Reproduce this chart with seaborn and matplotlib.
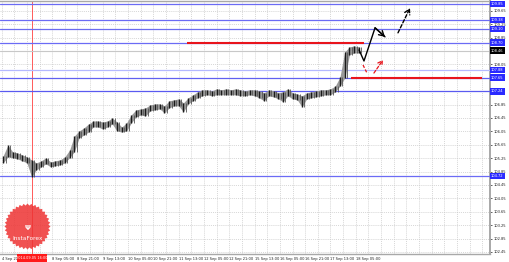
import numpy as np
import pandas as pd
import matplotlib
matplotlib.use("Agg")
import matplotlib.pyplot as plt
import seaborn as sns
from matplotlib.patches import Polygon, Rectangle

# ---------------- data ----------------
# price range of each 3-hour group of H1 bars (USD/JPY, 4-18 Sep 2014)
group_highs = [105.32, 105.64, 105.44, 105.41, 105.35, 105.29, 105.20, 105.11, 105.17, 105.26,
               105.14, 105.17, 105.20, 105.29, 105.49, 105.91, 106.06, 106.15, 106.27, 106.36,
               106.36, 106.33, 106.36, 106.45, 106.33, 106.18, 106.30, 106.54, 106.69, 106.72,
               106.75, 106.84, 106.87, 106.87, 106.81, 106.96, 106.99, 107.02, 106.90, 107.05,
               107.14, 107.23, 107.29, 107.29, 107.26, 107.32, 107.29, 107.32, 107.29, 107.32,
               107.29, 107.26, 107.29, 107.29, 107.26, 107.20, 107.29, 107.26, 107.20, 107.23,
               107.32, 107.20, 107.17, 107.11, 107.20, 107.23, 107.26, 107.29, 107.29, 107.32,
               107.40, 107.67, 108.42, 108.57, 108.60, 108.57]
group_lows = [105.11, 105.29, 105.26, 105.23, 105.17, 105.11, 104.69, 104.90, 104.99, 105.08,
              104.99, 105.02, 105.05, 105.11, 105.26, 105.44, 105.85, 105.94, 106.03, 106.18,
              106.18, 106.12, 106.18, 106.27, 106.06, 106.03, 106.06, 106.30, 106.48, 106.54,
              106.51, 106.66, 106.69, 106.72, 106.60, 106.75, 106.81, 106.81, 106.63, 106.87,
              106.96, 107.05, 107.11, 107.14, 107.11, 107.14, 107.14, 107.14, 107.14, 107.14,
              107.11, 107.11, 107.14, 107.11, 107.05, 106.96, 107.11, 107.08, 107.02, 106.93,
              107.11, 107.02, 106.99, 106.78, 107.02, 107.05, 107.08, 107.11, 107.14, 107.14,
              107.23, 107.40, 107.64, 108.33, 108.39, 108.39]
bars_per_group = 3

level_prices = [109.85, 109.38, 109.10, 108.70, 107.88, 107.65, 107.24, 104.72]
current_price = 108.46

resistance_price = 108.70
resistance_bars = [117.3, 229.2]
support_price = 107.65
support_bars = [220.8, 303.7]

forecast_bars = [226.1, 229.2, 236.2, 242.5]
forecast_prices = [108.48, 108.15, 109.14, 108.87]
forecast2_bars = [250.7, 258.3]
forecast2_prices = [108.99, 109.73]
alt_left_bars = [228.6, 231.1]
alt_left_prices = [108.03, 107.79]
alt_right_bars = [235.5, 241.2]
alt_right_prices = [107.79, 108.18]

tick_bars = [0, 32, 48, 64, 80, 96, 112, 128, 144, 160, 176, 192, 208, 224]
tick_labels = ["4 Sep 2014", "8 Sep 05:00", "8 Sep 21:00", "9 Sep 13:00", "10 Sep 05:00",
               "10 Sep 21:00", "11 Sep 13:00", "12 Sep 05:00", "12 Sep 21:00", "15 Sep 13:00",
               "16 Sep 05:00", "16 Sep 21:00", "17 Sep 13:00", "18 Sep 05:00"]
y_ticks = [102.45, 102.85, 103.25, 103.65, 104.05, 104.45, 104.85, 105.25, 105.65, 106.05,
           106.45, 106.85, 107.25, 107.65, 108.05, 108.45, 108.85, 109.25, 109.65]
crosshair_bar = 19
crosshair_label = "2014.09.05 16:00"
brand = "InstaForex"

# ---------------- style ----------------
sns.set_style("white")
plt.rcParams['font.family'] = ['DejaVu Sans']

W, H = 510, 262
fig = plt.figure(figsize=(W / 100, H / 100), dpi=100)
fig.patch.set_facecolor("white")
ax = fig.add_axes([0, 8 / H, 490 / W, 253 / H])
ax.set_facecolor("white")

ax.set_xlim(-1.0, 308.9)
ax.set_ylim(102.39, 109.94)

# grid
ax.set_xticks(tick_bars)
ax.set_xticks(np.arange(0, 309, 8), minor=True)
ax.set_xticklabels(tick_labels, ha="left", fontsize=2.6)
ax.set_yticks(y_ticks)
# labels hidden behind the price boxes are left blank
box_like = level_prices + [current_price]
ylabels = ["" if min(abs(v - b) for b in box_like) < 0.1 else f"{v:.2f}" for v in y_ticks]
ax.set_yticklabels(ylabels, fontsize=2.6)
ax.yaxis.tick_right()
ax.grid(True, which="both", color="#c8c8c8", linestyle=(0, (1.5, 1.5)), linewidth=0.5)
ax.tick_params(axis="x", which="major", length=1.5, width=0.5, pad=0.5, colors="#222222")
ax.tick_params(axis="x", which="minor", length=0)
ax.tick_params(axis="y", length=1.5, width=0.5, pad=1, colors="#222222")
ax.spines["left"].set_visible(False)
for side in ["right", "bottom", "top"]:
    ax.spines[side].set_color("#a8a8a8")
ax.spines["right"].set_linewidth(1.4)
ax.spines["bottom"].set_linewidth(1.0)
ax.spines["top"].set_linewidth(1.0)

# crosshair
ax.axvline(crosshair_bar, color="#ff4040", lw=0.6, zorder=2)

# level lines
level_colors = ["#6b6bf5", "#6b6bf5", "#6b6bf0", "#6b6bf5", "#b4b8ff", "#6060f0", "#5a5af0", "#6b6bf5"]
for p, c in zip(level_prices, level_colors):
    ax.axhline(p, color=c, lw=0.9, zorder=3)
ax.axhline(current_price, color="#c8c8c8", lw=0.8, zorder=2)

# candles
x = np.arange(len(group_highs)) * bars_per_group + 1
df = pd.DataFrame({"bar": x, "high": group_highs, "low": group_lows})
ax.fill_between(df["bar"], df["low"], df["high"], color="#9a9a9a", lw=0, zorder=4)
ax.vlines(df["bar"], df["low"], df["high"], color="#1a1a1a", lw=1.0, zorder=5)
ax.vlines(df["bar"] + 1.5, df["low"], df["high"], color="#555555", lw=0.6, zorder=5)

# red zones
ax.plot(resistance_bars, [resistance_price] * 2, color="#e8141c", lw=1.5, zorder=6,
        solid_capstyle="butt")
ax.plot(support_bars, [support_price] * 2, color="#e8141c", lw=1.5, zorder=6,
        solid_capstyle="butt")

# forecast arrows
fc = pd.DataFrame({"bar": forecast_bars, "price": forecast_prices})
sns.lineplot(data=fc, x="bar", y="price", sort=False, color="black", lw=1.0, ax=ax, zorder=7)
ax.set_xlabel("")
ax.set_ylabel("")
ax.annotate("", xy=(forecast_bars[-1], forecast_prices[-1]),
            xytext=(forecast_bars[-2], forecast_prices[-2]),
            arrowprops=dict(arrowstyle="->,head_length=0.35,head_width=0.2", color="black",
                            lw=1.0, shrinkA=0, shrinkB=0), zorder=7)
ax.annotate("", xy=(forecast2_bars[-1], forecast2_prices[-1]),
            xytext=(forecast2_bars[0], forecast2_prices[0]),
            arrowprops=dict(arrowstyle="->,head_length=0.35,head_width=0.2", color="black",
                            lw=1.0, shrinkA=0, shrinkB=0, linestyle=(0, (2.5, 1.5))), zorder=7)
ax.plot(alt_left_bars, alt_left_prices, color="#e8141c", lw=0.9, ls=(0, (2.5, 1.5)), zorder=7)
ax.annotate("", xy=(alt_right_bars[-1], alt_right_prices[-1]),
            xytext=(alt_right_bars[0], alt_right_prices[0]),
            arrowprops=dict(arrowstyle="->,head_length=0.3,head_width=0.18", color="#e8141c",
                            lw=0.9, shrinkA=0, shrinkB=0, linestyle=(0, (2.5, 1.5))), zorder=7)

# price boxes on the right axis
for p in level_prices:
    ax.text(1.002, p, f"{p:.2f}", transform=ax.get_yaxis_transform(), fontsize=2.6,
            color="white", va="center", ha="left", zorder=10, clip_on=False,
            bbox=dict(boxstyle="square,pad=0.35", fc="#2a2aff", ec="none"))
ax.text(1.002, current_price, f"{current_price:.2f}", transform=ax.get_yaxis_transform(),
        fontsize=2.6, color="white", va="center", ha="left", zorder=10, clip_on=False,
        bbox=dict(boxstyle="square,pad=0.35", fc="#000000", ec="none"))

# overlay in pixel coordinates (logo and crosshair date box)
ov = fig.add_axes([0, 0, 1, 1], zorder=20)
ov.set_xlim(0, W)
ov.set_ylim(H, 0)
ov.axis("off")
cx, cy = 27.5, 226.5
n_teeth = 36
ang = np.linspace(0, 2 * np.pi, 2 * n_teeth, endpoint=False)
rad = np.where(np.arange(2 * n_teeth) % 2 == 0, 23.0, 21.0)
ov.add_patch(Polygon(np.c_[cx + rad * np.cos(ang), cy + rad * np.sin(ang)],
                     closed=True, fc="#ee3333", ec="none", alpha=0.85))
ov.text(cx, cy + 1.5, "Ψ", color="white", fontsize=5, ha="center", va="center",
        fontweight="bold")
ov.text(cx, cy + 12.5, brand, color="white", fontsize=4.2, ha="center", va="center")
ov.add_patch(Rectangle((16.7, 254.3), 30, 7.4, fc="#ff1a1a", ec="none"))
ov.text(31.7, 258.0, crosshair_label, color="white", fontsize=2.5, ha="center", va="center")

fig.savefig("out.png", dpi=100, facecolor="white")
